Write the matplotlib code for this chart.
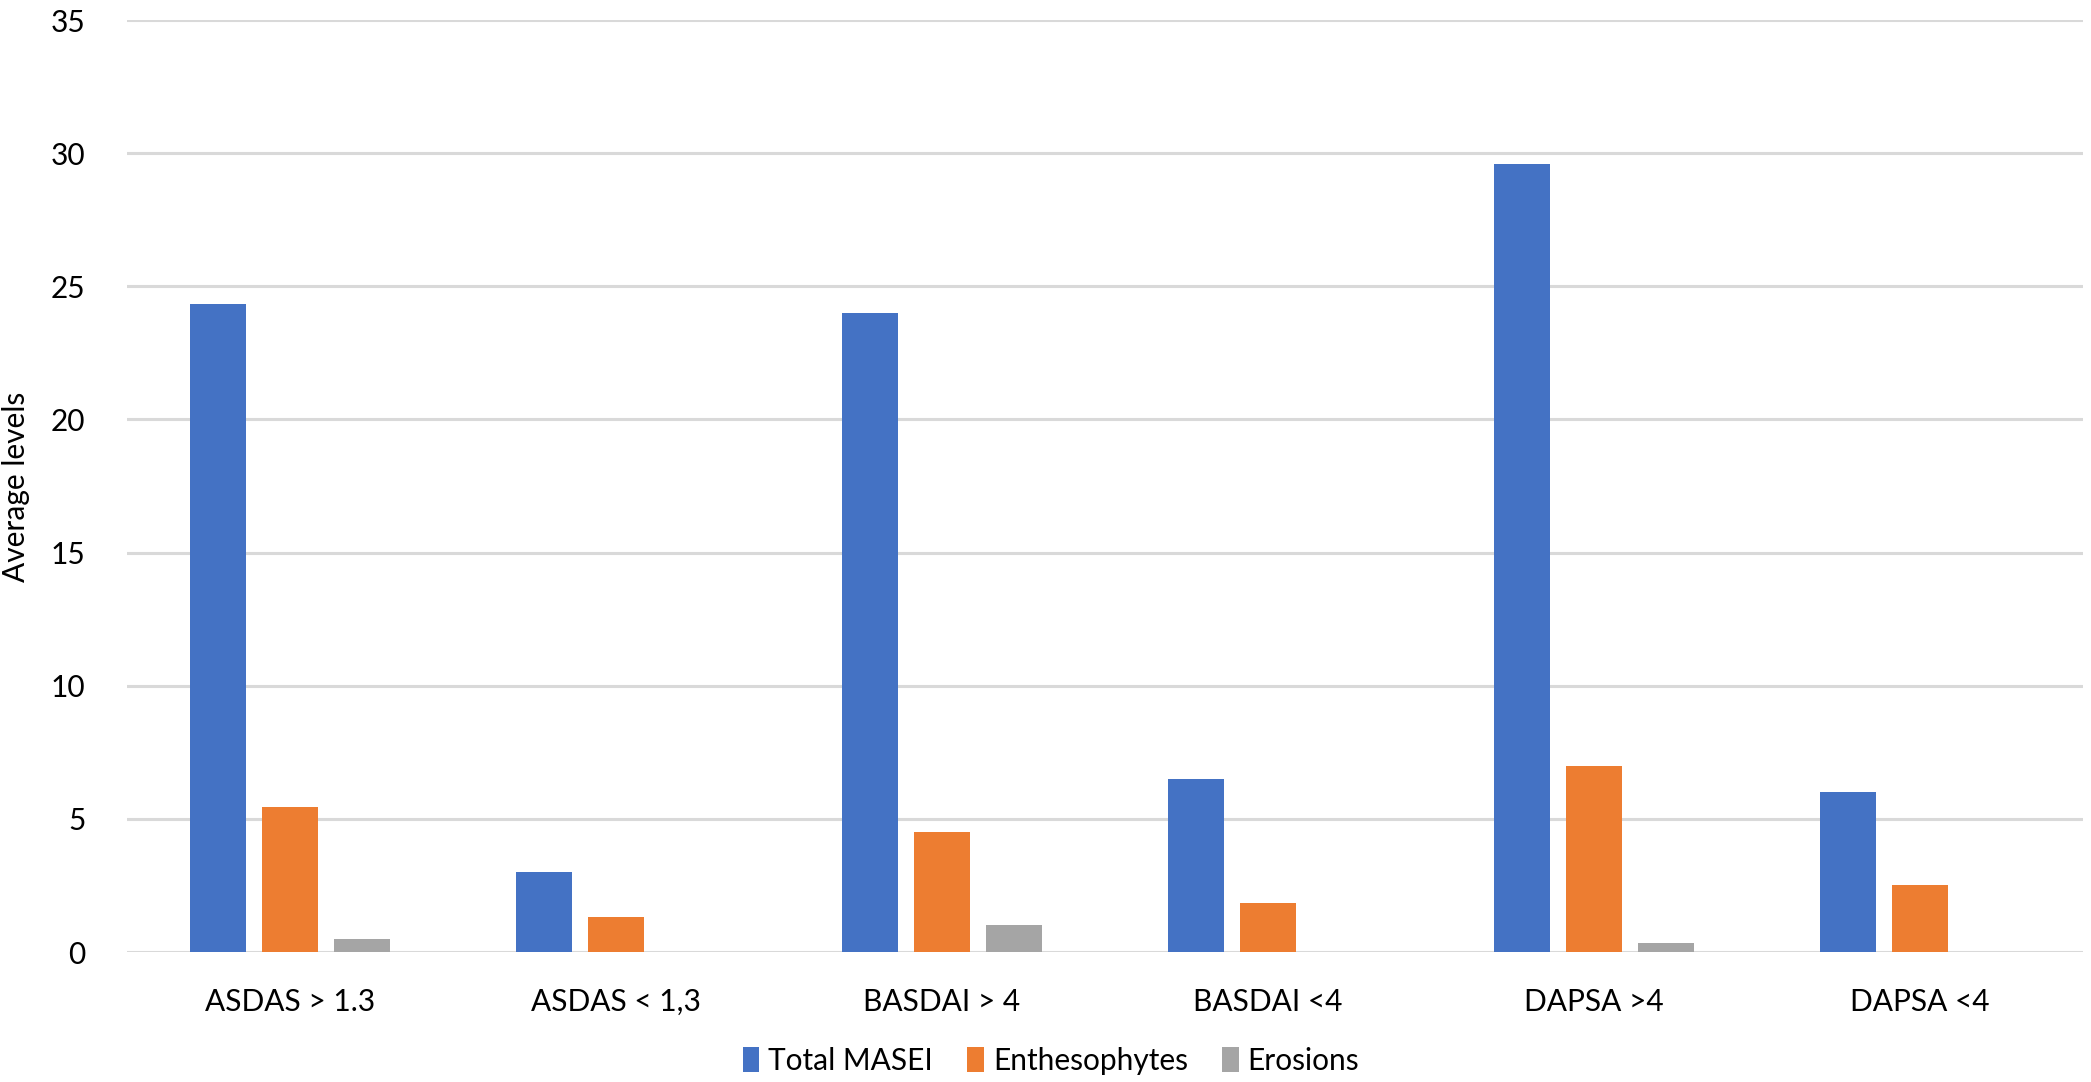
import matplotlib
matplotlib.use("Agg")
import matplotlib.pyplot as plt
import numpy as np

categories = ["ASDAS > 1.3", "ASDAS < 1,3", "BASDAI > 4", "BASDAI <4", "DAPSA >4", "DAPSA <4"]
total_masei = [24.35, 3.0, 24.0, 6.5, 29.6, 6.0]
enthesophytes = [5.45, 1.3, 4.5, 1.85, 7.0, 2.5]
erosions = [0.5, 0.0, 1.0, 0.0, 0.33, 0.0]
series_names = ["Total MASEI", "Enthesophytes", "Erosions"]
colors = ["#4472C4", "#ED7D31", "#A5A5A5"]
yticks = [0, 5, 10, 15, 20, 25, 30, 35]

plt.rcParams['font.family'] = ['Lato', 'DejaVu Sans']

W, H = 2091, 1082
fig = plt.figure(figsize=(W / 100, H / 100), dpi=100)
ax = fig.add_axes([127 / W, 1 - 952 / H, (2083 - 127) / W, (952 - 20) / H])

x = np.arange(len(categories))
width = 0.169
step = 0.221
for i, (vals, name, c) in enumerate(zip([total_masei, enthesophytes, erosions], series_names, colors)):
    ax.bar(x + (i - 1) * step, vals, width, color=c, label=name, zorder=3)

ax.set_xlim(-0.5, len(categories) - 0.5)
ax.set_ylim(0, 35)
ax.set_yticks(yticks)
ax.set_yticklabels([str(t) for t in yticks], fontsize=21.5)
ax.set_xticks(x)
ax.set_xticklabels(categories, fontsize=21.5)
ax.tick_params(axis='both', length=0)
ax.tick_params(axis='y', pad=30)
ax.tick_params(axis='x', pad=26)
for s in ax.spines.values():
    s.set_visible(False)
ax.yaxis.grid(True, color="#D9D9D9", linewidth=2.2, zorder=0)
ax.set_axisbelow(True)

fig.text(16 / W, 1 - 487 / H, "Average levels", rotation=90, ha='center', va='center', fontsize=21.5)

leg = fig.legend(loc='center', bbox_to_anchor=(1051 / W, 1 - 1061 / H), ncol=3, frameon=False,
                 fontsize=21.5, handlelength=0.55, handleheight=0.9, handletextpad=0.3,
                 columnspacing=1.15, borderpad=0)

fig.savefig("out.png", dpi=100, facecolor="white")
